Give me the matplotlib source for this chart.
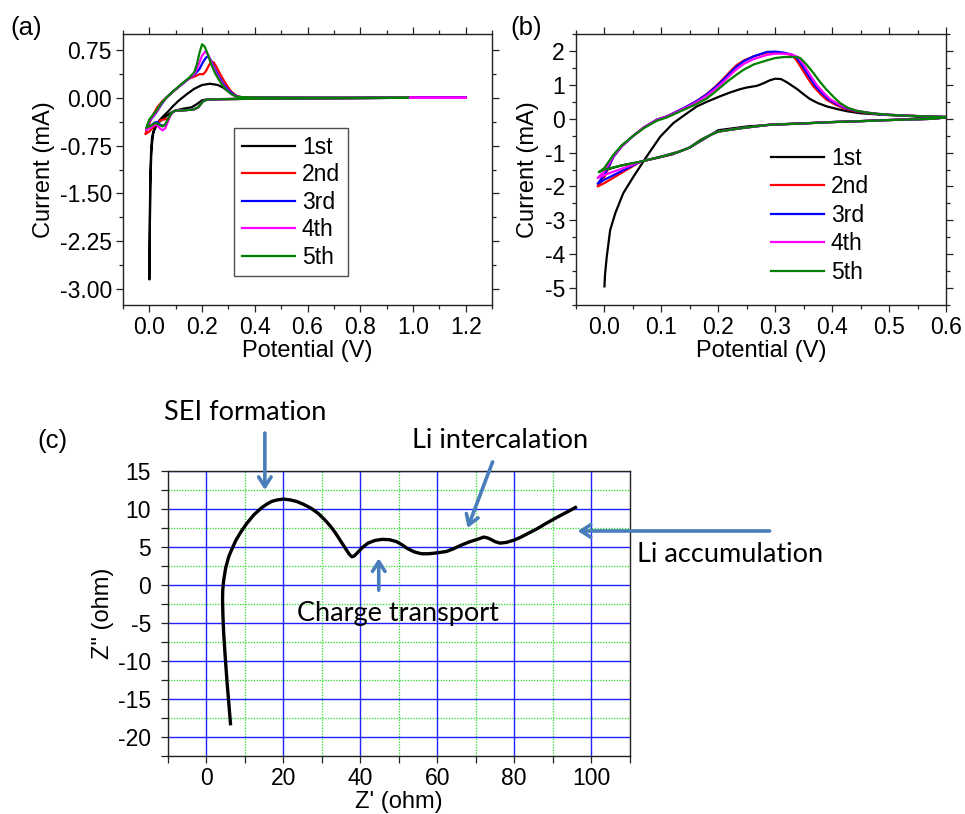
import matplotlib
matplotlib.use("Agg")
import matplotlib.pyplot as plt
from matplotlib.ticker import MultipleLocator, FixedLocator

plt.rcParams['font.family'] = ['Liberation Sans', 'DejaVu Sans']
plt.rcParams['axes.unicode_minus'] = False

# ---------------- Panel (a) data ----------------
cycle_labels = ["1st", "2nd", "3rd", "4th", "5th"]
cycle_colors = ["#000000", "#ff0000", "#0000ff", "#ff00ff", "#008000"]

a1_E = [1.2, 1.0, 0.8, 0.6, 0.4, 0.33, 0.28, 0.24, 0.21, 0.2, 0.18, 0.16, 0.13, 0.1, 0.08, 0.06,
        0.04, 0.025, 0.015, 0.008, 0.004, 0.002, 0.0,
        0.001, 0.003, 0.006, 0.01, 0.02, 0.035, 0.05, 0.07, 0.09, 0.11, 0.14, 0.17, 0.2, 0.23,
        0.26, 0.28, 0.3, 0.32, 0.34, 0.37, 0.45, 0.6, 0.8, 1.0]
a1_I = [0.0, 0.0, -0.005, -0.01, -0.015, -0.02, -0.02, -0.025, -0.03, -0.04, -0.1, -0.15, -0.17, -0.2, -0.24, -0.3,
        -0.37, -0.45, -0.55, -0.8, -1.3, -2.0, -2.85,
        -2.3, -1.4, -0.9, -0.62, -0.46, -0.37, -0.3, -0.22, -0.13, -0.05, 0.05, 0.14, 0.2, 0.22,
        0.2, 0.16, 0.1, 0.04, 0.01, 0.0, 0.0, 0.0, 0.0, 0.0]

a_cath_E = [1.2, 0.98, 0.8, 0.6, 0.4, 0.3, 0.25, 0.22, 0.205, 0.195, 0.185, 0.17, 0.15, 0.12, 0.1, 0.09]
a_cath_I = [0.0, 0.0, -0.005, -0.01, -0.015, -0.02, -0.025, -0.03, -0.05, -0.1, -0.15, -0.18, -0.19, -0.2, -0.2, -0.22]

a2_E = [0.08, 0.07, 0.055, 0.04, 0.025, 0.01, 0.0, -0.015,
        -0.005, 0.01, 0.03, 0.05, 0.064, 0.08, 0.1, 0.13, 0.15, 0.17, 0.19, 0.205, 0.215, 0.225,
        0.235, 0.245, 0.255, 0.27, 0.29, 0.31, 0.33, 0.35, 0.4, 0.6, 0.8, 1.0, 1.2]
a2_I = [-0.27, -0.33, -0.34, -0.36, -0.42, -0.48, -0.53, -0.57,
        -0.45, -0.3, -0.15, -0.05, 0.0, 0.06, 0.13, 0.24, 0.3, 0.33, 0.37, 0.37, 0.42, 0.5,
        0.57, 0.55, 0.48, 0.36, 0.22, 0.1, 0.03, 0.01, 0.005, 0.0, 0.0, 0.0, 0.0]

a3_E = [0.08, 0.07, 0.06, 0.05, 0.04, 0.03, 0.02, 0.005, -0.012,
        0.0, 0.025, 0.045, 0.064, 0.09, 0.12, 0.15, 0.17, 0.19, 0.205, 0.215, 0.222, 0.232,
        0.245, 0.26, 0.28, 0.3, 0.32, 0.34, 0.4, 0.6, 0.8, 1.0, 1.2]
a3_I = [-0.27, -0.36, -0.42, -0.44, -0.42, -0.38, -0.39, -0.44, -0.5,
        -0.37, -0.24, -0.11, 0.0, 0.1, 0.2, 0.3, 0.36, 0.45, 0.57, 0.63, 0.65, 0.6,
        0.48, 0.36, 0.22, 0.12, 0.05, 0.01, 0.005, 0.0, 0.0, 0.0, 0.0]

a4_E = [0.08, 0.07, 0.06, 0.05, 0.04, 0.03, 0.02, 0.005, -0.012,
        0.0, 0.025, 0.045, 0.064, 0.09, 0.12, 0.15, 0.17, 0.185, 0.2, 0.213, 0.225, 0.24,
        0.255, 0.27, 0.29, 0.31, 0.33, 0.35, 0.4, 0.6, 0.8, 1.0, 1.2]
a4_I = [-0.27, -0.38, -0.48, -0.51, -0.48, -0.43, -0.42, -0.47, -0.5,
        -0.36, -0.23, -0.1, 0.0, 0.1, 0.2, 0.3, 0.37, 0.5, 0.66, 0.73, 0.66, 0.5,
        0.37, 0.26, 0.14, 0.06, 0.02, 0.01, 0.005, 0.0, 0.0, 0.0, 0.0]

a5_E = [0.08, 0.07, 0.06, 0.05, 0.04, 0.03, 0.02, 0.005, -0.012,
        0.0, 0.025, 0.045, 0.064, 0.09, 0.12, 0.15, 0.17, 0.18, 0.19, 0.2, 0.21, 0.22,
        0.235, 0.25, 0.27, 0.29, 0.31, 0.33, 0.35, 0.4, 0.6, 0.8, 0.98]
a5_I = [-0.26, -0.34, -0.42, -0.45, -0.43, -0.4, -0.4, -0.44, -0.47,
        -0.34, -0.21, -0.09, 0.0, 0.1, 0.21, 0.31, 0.4, 0.52, 0.7, 0.84, 0.8, 0.7,
        0.52, 0.38, 0.24, 0.13, 0.06, 0.02, 0.01, 0.005, 0.0, 0.0, 0.0]

# ---------------- Panel (b) data ----------------
b1_E = [0.0, 0.001, 0.004, 0.01, 0.019, 0.033, 0.051, 0.074, 0.098, 0.121, 0.14, 0.162, 0.18,
        0.203, 0.22, 0.238, 0.25, 0.268, 0.28, 0.29, 0.3, 0.31, 0.32, 0.338, 0.35, 0.361, 0.375,
        0.391, 0.41, 0.426, 0.45, 0.484, 0.52, 0.56, 0.6,
        0.5, 0.4, 0.3, 0.25, 0.2, 0.18, 0.15, 0.12, 0.09, 0.06, 0.03, 0.0]
b1_I = [-4.95, -4.6, -4.08, -3.29, -2.79, -2.2, -1.71, -1.12, -0.53, -0.13, 0.1, 0.36, 0.5,
        0.66, 0.77, 0.87, 0.92, 0.97, 1.05, 1.13, 1.18, 1.17, 1.08, 0.88, 0.72, 0.58, 0.46,
        0.36, 0.28, 0.22, 0.16, 0.12, 0.09, 0.07, 0.05,
        -0.04, -0.1, -0.17, -0.23, -0.34, -0.55, -0.85, -1.05, -1.17, -1.28, -1.38, -1.52]

b_low_E = [0.6, 0.58, 0.55, 0.5, 0.44, 0.4, 0.35, 0.29, 0.27, 0.24, 0.22, 0.2, 0.19, 0.17,
           0.15, 0.13, 0.1, 0.08, 0.063]
b_low_I = [0.04, 0.0, -0.02, -0.04, -0.08, -0.1, -0.14, -0.18, -0.22, -0.28, -0.33, -0.38, -0.45,
           -0.62, -0.85, -0.98, -1.12, -1.2, -1.27]

b_up_E = [0.0, 0.016, 0.03, 0.051, 0.07, 0.092, 0.11, 0.139, 0.16, 0.18, 0.195, 0.209, 0.22,
          0.232, 0.245, 0.262, 0.285, 0.3, 0.315, 0.328]

b2_vert_E = [0.03, 0.0, -0.012]
b2_vert_I = [-1.6, -1.9, -2.0]
b2_up_I = [-1.72, -1.12, -0.82, -0.5, -0.25, -0.03, 0.07, 0.31, 0.5, 0.73, 0.95, 1.18, 1.38,
           1.58, 1.72, 1.84, 1.95, 1.96, 1.93, 1.88]
b2_down_E = [0.335, 0.344, 0.355, 0.367, 0.38, 0.39, 0.405, 0.42, 0.44, 0.46, 0.49, 0.52, 0.56, 0.6]
b2_down_I = [1.78, 1.55, 1.25, 0.95, 0.72, 0.56, 0.42, 0.31, 0.22, 0.17, 0.12, 0.1, 0.07, 0.05]

b3_vert_E = [0.03, 0.0, -0.012]
b3_vert_I = [-1.55, -1.8, -1.92]
b3_up_I = [-1.65, -1.12, -0.82, -0.5, -0.25, -0.03, 0.07, 0.31, 0.5, 0.72, 0.93, 1.15, 1.34,
           1.54, 1.7, 1.84, 1.97, 1.98, 1.95, 1.9]
b3_down_E = [0.338, 0.348, 0.359, 0.371, 0.384, 0.394, 0.409, 0.424, 0.444, 0.464, 0.49, 0.52, 0.56, 0.6]
b3_down_I = [1.8, 1.55, 1.25, 0.95, 0.72, 0.56, 0.42, 0.31, 0.22, 0.17, 0.12, 0.1, 0.07, 0.05]

b4_vert_E = [0.03, 0.0, -0.012]
b4_vert_I = [-1.48, -1.66, -1.75]
b4_up_I = [-1.55, -1.1, -0.81, -0.5, -0.25, -0.04, 0.06, 0.29, 0.47, 0.68, 0.88, 1.09, 1.27,
           1.46, 1.62, 1.76, 1.88, 1.92, 1.92, 1.9]
b4_down_E = [0.34, 0.351, 0.362, 0.374, 0.387, 0.397, 0.412, 0.427, 0.447, 0.467, 0.493, 0.52, 0.56, 0.6]
b4_down_I = [1.82, 1.57, 1.27, 0.97, 0.73, 0.57, 0.42, 0.31, 0.22, 0.17, 0.12, 0.1, 0.07, 0.05]

b5_vert_E = [0.03, 0.0, -0.01]
b5_vert_I = [-1.38, -1.5, -1.58]
b5_up_I = [-1.45, -1.06, -0.79, -0.5, -0.27, -0.06, 0.04, 0.26, 0.42, 0.6, 0.8, 1.0, 1.15,
           1.3, 1.45, 1.6, 1.72, 1.79, 1.82, 1.82]
b5_down_E = [0.338, 0.344, 0.355, 0.367, 0.378, 0.39, 0.402, 0.414, 0.428, 0.443, 0.47, 0.496, 0.54, 0.6]
b5_down_I = [1.82, 1.79, 1.6, 1.35, 1.1, 0.86, 0.65, 0.46, 0.32, 0.23, 0.16, 0.12, 0.08, 0.05]

# ---------------- Panel (c) data ----------------
z_re = [6.3, 5.9, 5.4, 4.9, 4.5, 4.3, 4.2, 4.25, 4.5, 5.0, 5.8, 6.7, 7.7, 9.0, 10.5, 12.3, 14.2,
        15.6, 17.0, 18.5, 20.0, 21.7, 23.4, 25.3, 27.2, 29.1, 30.9, 32.3, 33.6, 35.0, 36.4, 37.2,
        37.8, 38.4, 39.2, 40.5, 42.0, 43.8, 45.7, 47.6, 49.4, 50.8, 52.2, 54.0, 55.9, 57.8, 59.6,
        61.0, 62.4, 64.2, 66.1, 68.0, 69.8, 71.0, 72.1, 73.0, 73.9, 75.0, 76.3, 78.0, 80.0, 81.8,
        83.7, 86.0, 88.3, 90.6, 93.0, 94.7, 96.3]
z_im = [-18.5, -16.0, -13.0, -9.5, -6.4, -4.0, -2.0, -0.7, 0.6, 2.2, 3.7, 4.8, 5.9, 7.0, 8.1, 9.2, 10.1,
        10.6, 11.0, 11.2, 11.3, 11.2, 11.0, 10.6, 10.1, 9.4, 8.5, 7.7, 6.8, 5.7, 4.6, 4.0,
        3.7, 3.8, 4.2, 4.9, 5.5, 5.85, 6.0, 5.95, 5.7, 5.3, 4.8, 4.35, 4.1, 4.1, 4.2,
        4.3, 4.4, 4.75, 5.2, 5.6, 5.9, 6.1, 6.3, 6.2, 6.0, 5.7, 5.5, 5.6, 5.9, 6.3,
        6.8, 7.4, 8.1, 8.75, 9.4, 9.85, 10.3]

ann_texts = ["SEI formation", "Charge transport", "Li intercalation", "Li accumulation"]

# ---------------- Figure ----------------
W, H = 965, 814
fig = plt.figure(figsize=(W / 100, H / 100), dpi=100)

def fbox(l, t, r, b):
    return [l / W, 1 - b / H, (r - l) / W, (b - t) / H]

TICK_FS = 16.5
LAB_FS = 17
LEG_FS = 16.5
PANEL_FS = 18.5
ANN_FS = 19.5

def style_axes(ax, mirror=True):
    for s in ax.spines.values():
        s.set_linewidth(1.0)
        s.set_color("#222222")
    ax.tick_params(which="both", direction="out", top=mirror, right=mirror,
                   labeltop=False, labelright=False, labelsize=TICK_FS, width=0.9,
                   color="#222222", pad=3)
    ax.tick_params(which="major", length=5)
    ax.tick_params(which="minor", length=3)

# (a)
axa = fig.add_axes(fbox(123, 34, 492, 305))
a_sets = [(a1_E, a1_I),
          (a_cath_E + a2_E, a_cath_I + a2_I),
          (a_cath_E + a3_E, a_cath_I + a3_I),
          (a_cath_E + a4_E, a_cath_I + a4_I),
          (a_cath_E[1:] + a5_E, a_cath_I[1:] + a5_I)]
for (E, I), c, lab in zip(a_sets, cycle_colors, cycle_labels):
    axa.plot(E, I, color=c, lw=1.6, label=lab)
axa.set_xlim(-0.1, 1.3)
axa.set_ylim(-3.25, 1.0)
axa.xaxis.set_major_locator(FixedLocator([0.0, 0.2, 0.4, 0.6, 0.8, 1.0, 1.2]))
axa.xaxis.set_minor_locator(MultipleLocator(0.1))
axa.yaxis.set_major_locator(FixedLocator([0.75, 0.0, -0.75, -1.5, -2.25, -3.0]))
axa.yaxis.set_minor_locator(MultipleLocator(0.375))
axa.set_xticklabels(["0.0", "0.2", "0.4", "0.6", "0.8", "1.0", "1.2"])
axa.set_yticklabels(["0.75", "0.00", "-0.75", "-1.50", "-2.25", "-3.00"])
axa.set_xlabel("Potential (V)", fontsize=LAB_FS, labelpad=1)
axa.set_ylabel("Current (mA)", fontsize=LAB_FS, labelpad=3)
style_axes(axa)
lega = axa.legend(loc="upper left", bbox_to_anchor=(234 / W, 1 - 128 / H),
                  bbox_transform=fig.transFigure, fontsize=LEG_FS, frameon=True, fancybox=False,
                  edgecolor="#222222", handlelength=2.35, handletextpad=0.28, labelspacing=0.2,
                  borderpad=0.33, borderaxespad=0)
lega.get_frame().set_linewidth(1.0)
fig.text(10 / W, 1 - 28 / H, "(a)", fontsize=PANEL_FS, va="center", ha="left")

# (b)
axb = fig.add_axes(fbox(576, 34, 946, 305))
b_sets = [(b1_E, b1_I),
          (b_low_E + b2_vert_E + b_up_E + b2_down_E, b_low_I + b2_vert_I + b2_up_I + b2_down_I),
          (b_low_E + b3_vert_E + b_up_E + b3_down_E, b_low_I + b3_vert_I + b3_up_I + b3_down_I),
          (b_low_E + b4_vert_E + b_up_E + b4_down_E, b_low_I + b4_vert_I + b4_up_I + b4_down_I),
          (b_low_E + b5_vert_E + b_up_E + b5_down_E, b_low_I + b5_vert_I + b5_up_I + b5_down_I)]
for (E, I), c, lab in zip(b_sets, cycle_colors, cycle_labels):
    axb.plot(E, I, color=c, lw=1.6, label=lab)
axb.set_xlim(-0.05, 0.6)
axb.set_ylim(-5.5, 2.5)
axb.xaxis.set_major_locator(FixedLocator([0.0, 0.1, 0.2, 0.3, 0.4, 0.5, 0.6]))
axb.xaxis.set_minor_locator(MultipleLocator(0.05))
axb.yaxis.set_major_locator(FixedLocator([2, 1, 0, -1, -2, -3, -4, -5]))
axb.yaxis.set_minor_locator(MultipleLocator(0.5))
axb.set_xticklabels(["0.0", "0.1", "0.2", "0.3", "0.4", "0.5", "0.6"])
axb.set_yticklabels(["2", "1", "0", "-1", "-2", "-3", "-4", "-5"])
axb.set_xlabel("Potential (V)", fontsize=LAB_FS, labelpad=1)
axb.set_ylabel("Current (mA)", fontsize=LAB_FS, labelpad=4)
style_axes(axb)
legb = axb.legend(loc="upper left", bbox_to_anchor=(766 / W, 1 - 142 / H),
                  bbox_transform=fig.transFigure, fontsize=LEG_FS, frameon=False,
                  handlelength=2.35, handletextpad=0.28, labelspacing=0.24,
                  borderpad=0.2, borderaxespad=0)
fig.text(510 / W, 1 - 28 / H, "(b)", fontsize=PANEL_FS, va="center", ha="left")

# (c)
axc = fig.add_axes(fbox(167.9, 471, 629.6, 755.7))
axc.set_xlim(-10, 110)
axc.set_ylim(-22.5, 15)
axc.xaxis.set_major_locator(FixedLocator([0, 20, 40, 60, 80, 100]))
axc.xaxis.set_minor_locator(MultipleLocator(10))
axc.yaxis.set_major_locator(MultipleLocator(5))
axc.yaxis.set_minor_locator(MultipleLocator(2.5))
axc.grid(which="major", color="#2222ff", lw=1.0, ls="-")
axc.grid(which="minor", color="#22dd22", lw=0.9, ls=(0, (1, 1.2)))
axc.set_axisbelow(True)
axc.plot(z_re, z_im, color="black", lw=2.4, solid_capstyle="butt", zorder=3)
for s in axc.spines.values():
    s.set_linewidth(1.0)
    s.set_color("#222222")
axc.tick_params(which="both", direction="out", labelsize=TICK_FS, width=0.9, color="#222222")
axc.tick_params(axis="x", pad=3)
axc.tick_params(axis="y", pad=7)
axc.tick_params(which="major", length=5)
axc.tick_params(which="minor", length=5)
axc.set_xlabel("Z' (ohm)", fontsize=LAB_FS, labelpad=1)
axc.set_ylabel('Z" (ohm)', fontsize=LAB_FS, labelpad=3)
fig.text(37 / W, 1 - 441 / H, "(c)", fontsize=PANEL_FS, va="center", ha="left")

ARROW_C = "#4a7ebb"
aprops = dict(arrowstyle="->,head_length=0.7,head_width=0.45", color=ARROW_C, lw=2.6,
              shrinkA=0, shrinkB=0)
ANN_FONT = ["Lato", "DejaVu Sans"]
# SEI formation
axc.annotate("", xy=(15.2, 12.5), xytext=(15.2, 20.0), arrowprops=aprops, annotation_clip=False)
fig.text(245 / W, 1 - 412 / H, ann_texts[0], fontsize=ANN_FS, family=ANN_FONT, ha="center", va="center")
# Charge transport
axc.annotate("", xy=(44.8, 3.5), xytext=(44.8, -0.7), arrowprops=aprops, annotation_clip=False)
fig.text(398 / W, 1 - 614 / H, ann_texts[1], fontsize=ANN_FS, family=ANN_FONT, ha="center", va="center")
# Li intercalation
axc.annotate("", xy=(67.9, 7.5), xytext=(74.4, 16.2), arrowprops=aprops, annotation_clip=False)
fig.text(500 / W, 1 - 440 / H, ann_texts[2], fontsize=ANN_FS, family=ANN_FONT, ha="center", va="center")
# Li accumulation
axc.annotate("", xy=(96.5, 7.1), xytext=(146.4, 7.1), arrowprops=aprops, annotation_clip=False)
fig.text(730 / W, 1 - 555 / H, ann_texts[3], fontsize=ANN_FS, family=ANN_FONT, ha="center", va="center")

fig.savefig("out.png", dpi=100)
